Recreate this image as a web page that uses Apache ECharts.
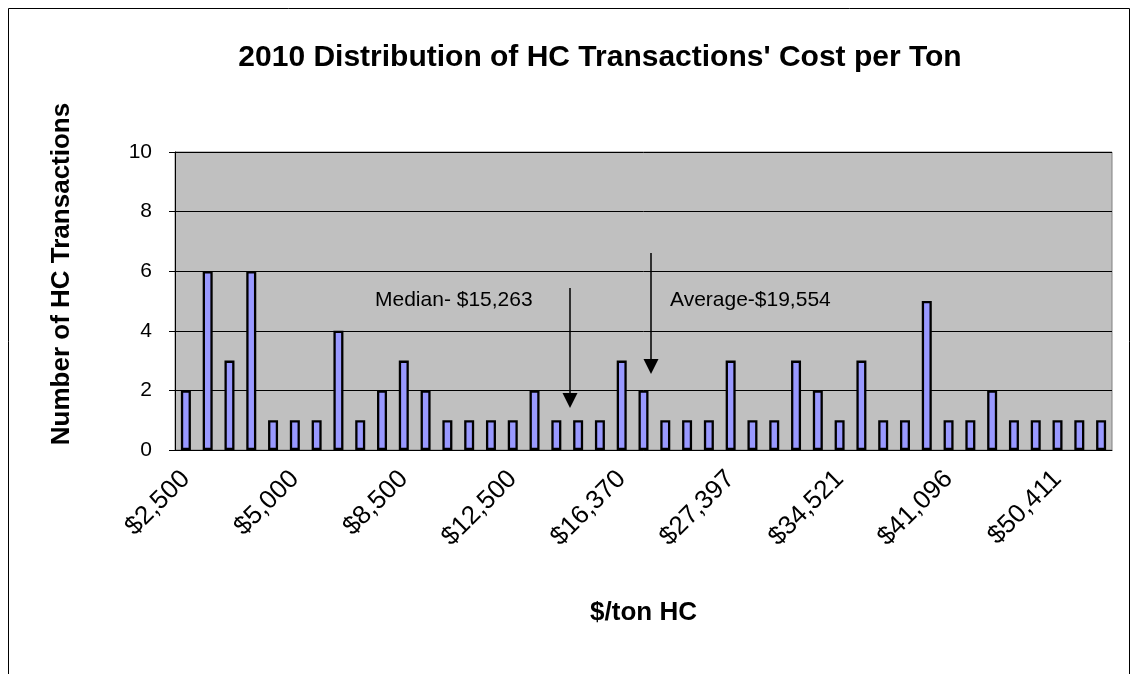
<!DOCTYPE html>
<html>
<head>
<meta charset="utf-8">
<script src="https://cdn.jsdelivr.net/npm/echarts@6/dist/echarts.min.js"></script>
<style>
  html, body { margin: 0; padding: 0; background: #fff; }
  #main { width: 1132px; height: 674px; }
</style>
</head>
<body>
<div id="main"></div>
<script>
// labels shown every 5th bin
const tickLabels = ['$2,500', '$5,000', '$8,500', '$12,500', '$16,370', '$27,397', '$34,521', '$41,096', '$50,411'];
// number of transactions per cost bin (43 bins)
const counts = [2, 6, 3, 6, 1, 1, 1, 4, 1, 2, 3, 2, 1, 1, 1, 1, 2, 1, 1, 1, 3, 2, 1, 1, 1, 3, 1, 1, 3, 2, 1, 3, 1, 1, 5, 1, 1, 2, 1, 1, 1, 1, 1];
const categories = counts.map((c, i) => (i % 5 === 0 ? tickLabels[i / 5] : ''));

const font = 'Liberation Sans, Arial, sans-serif';
const chart = echarts.init(document.getElementById('main'));

function arrow(x, y1, y2) {
  return [
    { type: 'line', shape: { x1: x, y1: y1, x2: x, y2: y2 - 12 }, style: { stroke: '#000', lineWidth: 1.5 } },
    { type: 'polygon', shape: { points: [[x - 7.5, y2 - 15], [x + 7.5, y2 - 15], [x, y2]] }, style: { fill: '#000' } }
  ];
}

const option = {
  backgroundColor: '#fff',
  animation: false,
  title: {
    text: "2010 Distribution of HC Transactions' Cost per Ton",
    left: 595, top: 38, textAlign: 'center',
    textStyle: { fontFamily: font, fontSize: 30, fontWeight: 'bold', color: '#000' }
  },
  grid: {
    left: 175, right: 20, top: 152, bottom: 224,
    show: true, backgroundColor: '#C0C0C0', borderColor: '#808080', borderWidth: 1
  },
  xAxis: {
    type: 'category',
    data: categories,
    name: '$/ton HC',
    nameLocation: 'middle',
    nameGap: 150,
    nameTextStyle: { fontFamily: font, fontSize: 26, fontWeight: 'bold', color: '#000' },
    axisLine: { lineStyle: { color: '#000', width: 1 } },
    axisTick: { interval: 2, length: 6, lineStyle: { color: '#000' } },
    axisLabel: { interval: 4, rotate: 45, margin: 25, fontFamily: font, fontSize: 26, color: '#000' }
  },
  yAxis: {
    type: 'value',
    min: 0, max: 10, interval: 2,
    name: 'Number of HC Transactions',
    nameLocation: 'middle',
    nameGap: 100,
    nameTextStyle: { fontFamily: font, fontSize: 26, fontWeight: 'bold', color: '#000', padding: [0, 0, 0, 54] },
    axisLine: { show: true, lineStyle: { color: '#000', width: 1 } },
    axisTick: { show: true, length: 6, inside: false, lineStyle: { color: '#000' } },
    axisLabel: { margin: 23, fontFamily: font, fontSize: 21, color: '#000' },
    splitLine: { lineStyle: { color: '#000', width: 1 } }
  },
  series: [{
    type: 'bar',
    data: counts,
    barWidth: 10,
    itemStyle: { color: '#9999FF', borderColor: '#000', borderWidth: 2.3 }
  }],
  graphic: [
    { type: 'rect', shape: { x: 8.5, y: 8.5, width: 1121, height: 720 }, style: { fill: 'none', stroke: '#000', lineWidth: 1 }, silent: true },
    { type: 'text', left: 375, top: 290, style: { text: 'Median- $15,263', fontFamily: font, fontSize: 21, fill: '#000' } },
    { type: 'text', left: 670, top: 290, style: { text: 'Average-$19,554', fontFamily: font, fontSize: 21, fill: '#000' } },
    ...arrow(570, 288, 408),
    ...arrow(651, 253, 374)
  ]
};
chart.setOption(option);
</script>
</body>
</html>
